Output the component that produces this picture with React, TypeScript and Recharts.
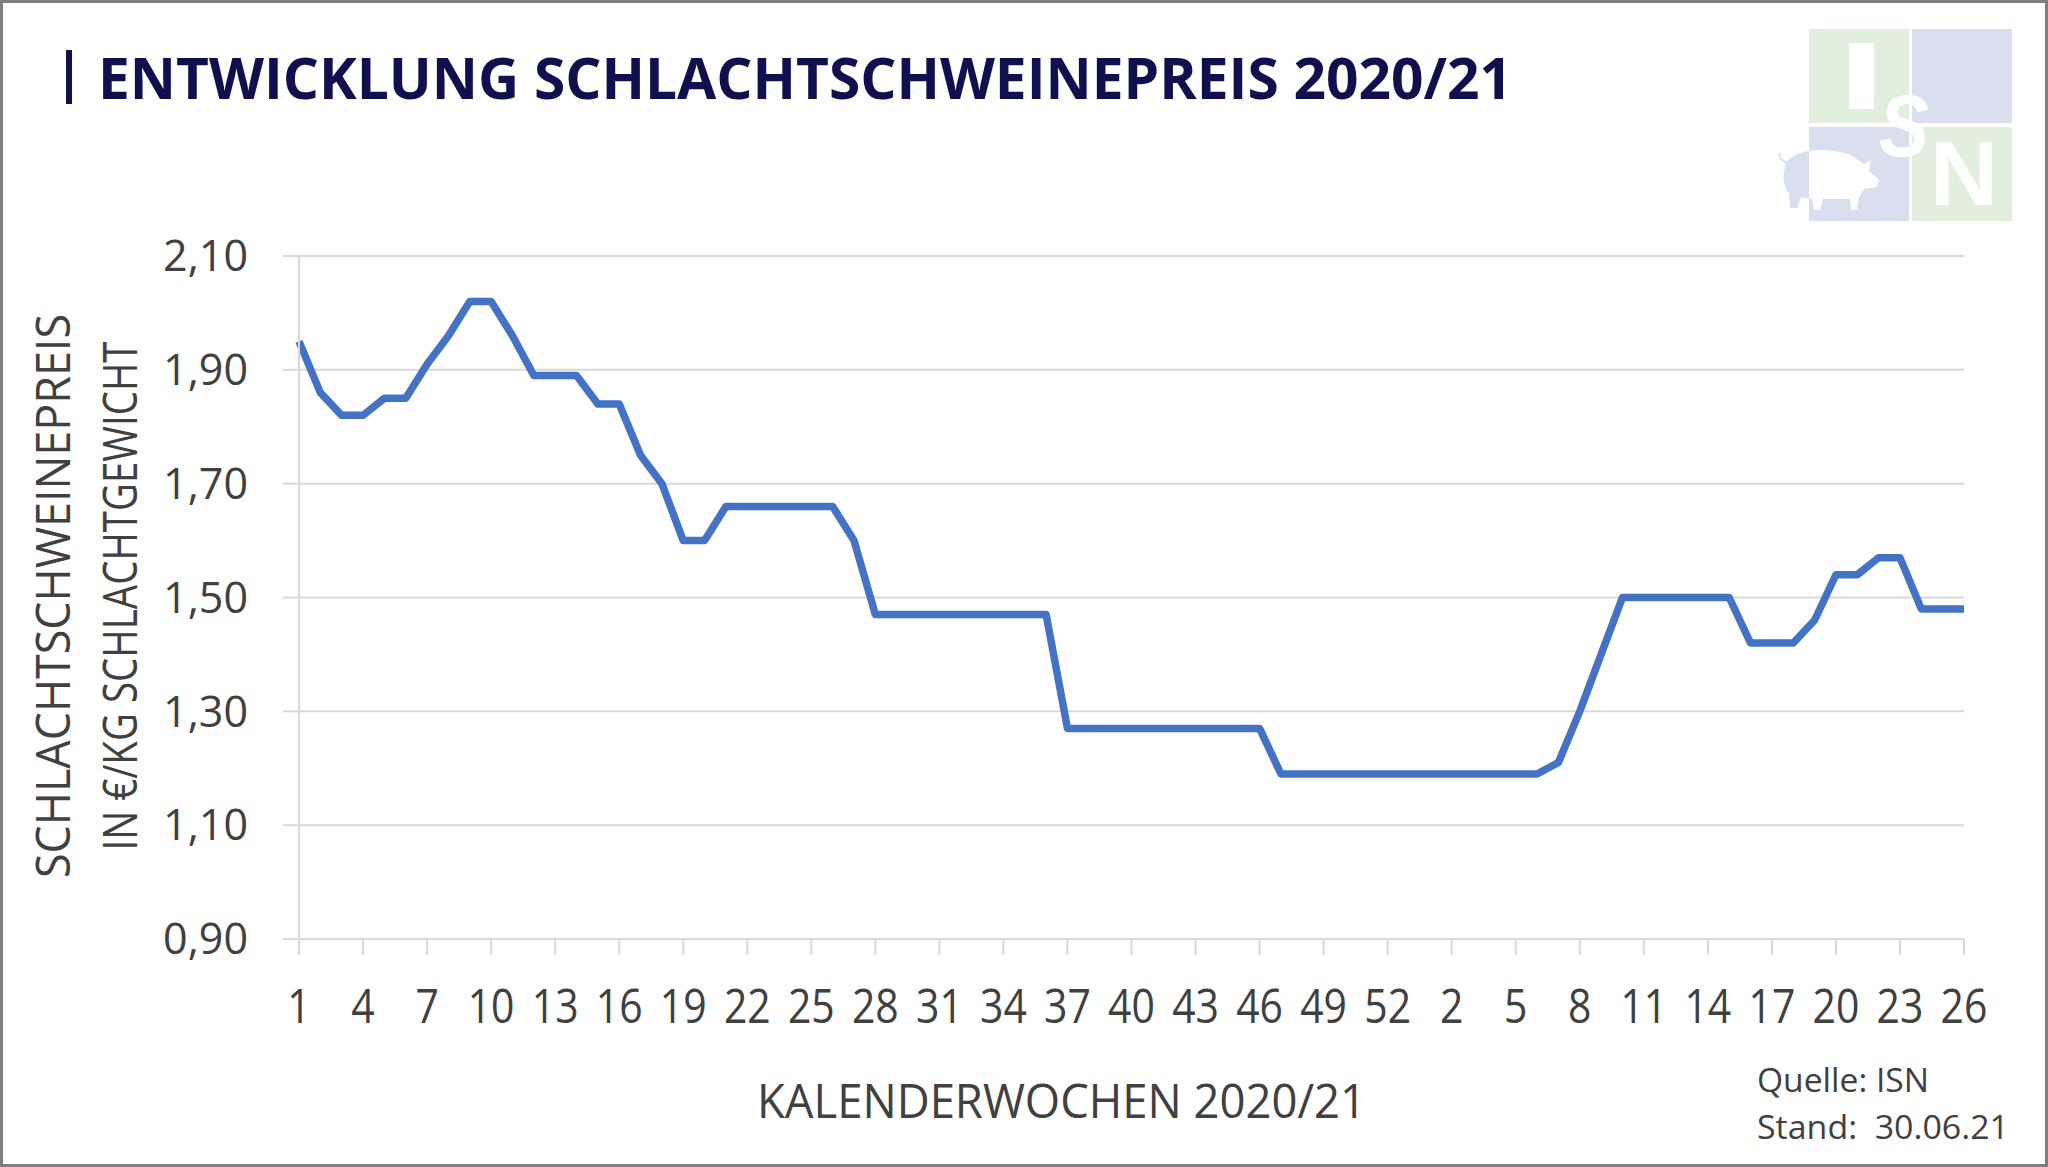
import { LineChart, Line, XAxis, YAxis, CartesianGrid } from 'recharts';

// Kalenderwochen 2020 (53 KW) und 2021
const weeks2020 = [
    '1', '2', '3', '4', '5', '6', '7', '8', '9', '10',
    '11', '12', '13', '14', '15', '16', '17', '18', '19', '20',
    '21', '22', '23', '24', '25', '26', '27', '28', '29', '30',
    '31', '32', '33', '34', '35', '36', '37', '38', '39', '40',
    '41', '42', '43', '44', '45', '46', '47', '48', '49', '50',
    '51', '52', '53',
];
const weeks2021 = [
    '1', '2', '3', '4', '5', '6', '7', '8', '9', '10',
    '11', '12', '13', '14', '15', '16', '17', '18', '19', '20',
    '21', '22', '23', '24', '25', '26',
];

// Schlachtschweinepreis in €/kg Schlachtgewicht
const prices2020 = [
    1.95, 1.86, 1.82, 1.82, 1.85, 1.85, 1.91, 1.96, 2.02, 2.02,
    1.96, 1.89, 1.89, 1.89, 1.84, 1.84, 1.75, 1.70, 1.60, 1.60,
    1.66, 1.66, 1.66, 1.66, 1.66, 1.66, 1.60, 1.47, 1.47, 1.47,
    1.47, 1.47, 1.47, 1.47, 1.47, 1.47, 1.27, 1.27, 1.27, 1.27,
    1.27, 1.27, 1.27, 1.27, 1.27, 1.27, 1.19, 1.19, 1.19, 1.19,
    1.19, 1.19, 1.19,
];
const prices2021 = [
    1.19, 1.19, 1.19, 1.19, 1.19, 1.19, 1.21, 1.30, 1.40, 1.50,
    1.50, 1.50, 1.50, 1.50, 1.50, 1.42, 1.42, 1.42, 1.46, 1.54,
    1.54, 1.57, 1.57, 1.48, 1.48, 1.48,
];

const yTicks = [0.9, 1.1, 1.3, 1.5, 1.7, 1.9, 2.1];

const data = [
    ...weeks2020.map((w, i) => ({ key: `2020-${w}`, price: prices2020[i] })),
    ...weeks2021.map((w, i) => ({ key: `2021-${w}`, price: prices2021[i] })),
];

const FONT = '"Open Sans", "Noto Sans", sans-serif';
const GRID = '#d9d9d9';
const TEXT = '#404040';
const NAVY = '#10104e';
const LOGO_GREEN = '#e2efdf';
const LOGO_BLUE = '#d9dfee';

const WeekTick = (props: any) => {
    const { x, y, payload } = props;
    const label = String(payload.value).split('-')[1];
    return (
        <g transform={`translate(${x},${y})`}>
            <text
                x={0}
                y={68}
                textAnchor="middle"
                transform="scale(0.87,1)"
                fontSize={47}
                fontFamily={FONT}
                fill={TEXT}
            >
                {label}
            </text>
        </g>
    );
};

const PIG =
    'M1788,160 C1800,148 1832,147 1852,156 L1864,164 L1871,160 L1869,171 L1879,180 L1877,187 L1864,189 ' +
    'L1859,197 L1857,210 L1851,210 L1850,199 L1823,199 L1820,210 L1814,210 L1812,199 L1801,197 ' +
    'L1797,208 L1790,208 L1789,193 C1782,186 1782,170 1788,160 Z';

const Overlay = () => (
    <svg
        width={2048}
        height={1167}
        style={{ position: 'absolute', left: 0, top: 0, pointerEvents: 'none' }}
    >
        <defs>
            <clipPath id="blSquare">
                <rect x={1809} y={127} width={100} height={94} />
            </clipPath>
        </defs>
        <rect x={1.5} y={1.5} width={2045} height={1164} fill="none" stroke="#808080" strokeWidth={3} />

        {/* Titel */}
        <rect x={66} y={50} width={6} height={54} fill={NAVY} />
        <text
            x={98}
            y={99}
            fontSize={58}
            fontWeight={700}
            fontFamily={FONT}
            fill={NAVY}
            textLength={1414}
            lengthAdjust="spacingAndGlyphs"
        >
            ENTWICKLUNG SCHLACHTSCHWEINEPREIS 2020/21
        </text>

        {/* Logo */}
        <rect x={1809} y={29} width={100} height={94} fill={LOGO_GREEN} />
        <rect x={1912} y={29} width={100} height={94} fill={LOGO_BLUE} />
        <rect x={1809} y={127} width={100} height={94} fill={LOGO_BLUE} />
        <rect x={1912} y={127} width={100} height={94} fill={LOGO_GREEN} />
        <rect x={1849} y={43} width={25} height={66} fill="#ffffff" />
        <path d={PIG} fill={LOGO_BLUE} />
        <path d={PIG} fill="#ffffff" clipPath="url(#blSquare)" />
        <path d="M1787,163 C1781,160 1778,156 1780,153" fill="none" stroke={LOGO_BLUE} strokeWidth={2} />
        <text x={1879} y={156} fontSize={88} fontWeight={700} fontStyle="italic"
            fontFamily='"Liberation Sans", Arial, sans-serif' fill="#ffffff"
            textLength={50} lengthAdjust="spacingAndGlyphs">S</text>
        <text x={1930} y={205} fontSize={91} fontWeight={700}
            fontFamily='"Liberation Sans", Arial, sans-serif' fill="#ffffff"
            textLength={68} lengthAdjust="spacingAndGlyphs">N</text>

        {/* Achsentitel */}
        <text
            transform="translate(70,596) rotate(-90)"
            textAnchor="middle"
            fontSize={47}
            fontFamily={FONT}
            fill={TEXT}
            textLength={564}
            lengthAdjust="spacingAndGlyphs"
        >
            SCHLACHTSCHWEINEPREIS
        </text>
        <text
            transform="translate(137,596) rotate(-90)"
            textAnchor="middle"
            fontSize={47}
            fontFamily={FONT}
            fill={TEXT}
            textLength={509}
            lengthAdjust="spacingAndGlyphs"
        >
            IN €/KG SCHLACHTGEWICHT
        </text>
        <text
            x={757}
            y={1118}
            fontSize={47}
            fontFamily={FONT}
            fill={TEXT}
            textLength={609}
            lengthAdjust="spacingAndGlyphs"
        >
            KALENDERWOCHEN 2020/21
        </text>

        {/* Quelle */}
        <text x={1757} y={1092} fontSize={32} fontFamily={FONT} fill={TEXT}
            textLength={172} lengthAdjust="spacingAndGlyphs">Quelle: ISN</text>
        <text x={1757} y={1139} fontSize={32} fontFamily={FONT} fill={TEXT}
            textLength={252} lengthAdjust="spacingAndGlyphs" xmlSpace="preserve">Stand:  30.06.21</text>
    </svg>
);

const App = () => {
    return (
        <div
            style={{
                position: 'absolute',
                left: 0,
                top: 0,
                width: 2048,
                height: 1167,
                background: '#ffffff',
                fontFamily: FONT,
            }}
        >
            <LineChart
                width={2048}
                height={1167}
                data={data}
                margin={{ top: 256, right: 84, bottom: 128, left: 149 }}
            >
                <CartesianGrid vertical={false} stroke={GRID} strokeWidth={2} />
                <XAxis
                    dataKey="key"
                    scale="point"
                    padding={{ left: 0, right: 0 }}
                    interval={2}
                    height={100}
                    tickSize={16}
                    tickMargin={0}
                    axisLine={{ stroke: GRID, strokeWidth: 2 }}
                    tickLine={{ stroke: GRID, strokeWidth: 2 }}
                    tick={(p: any) => <WeekTick {...p} />}
                />
                <YAxis
                    type="number"
                    domain={[0.9, 2.1]}
                    ticks={yTicks}
                    interval={0}
                    width={150}
                    tickSize={16}
                    tickMargin={35}
                    axisLine={{ stroke: GRID, strokeWidth: 2 }}
                    tickLine={{ stroke: GRID, strokeWidth: 2 }}
                    tick={{ fill: TEXT, fontSize: 43, fontFamily: FONT }}
                    tickFormatter={(v: number) => v.toFixed(2).replace('.', ',')}
                />
                <Line
                    type="linear"
                    dataKey="price"
                    stroke="#4472C4"
                    strokeWidth={7.5}
                    strokeLinejoin="round"
                    dot={false}
                    activeDot={false}
                    isAnimationActive={false}
                />
            </LineChart>
            <Overlay />
        </div>
    );
};

export default App;
